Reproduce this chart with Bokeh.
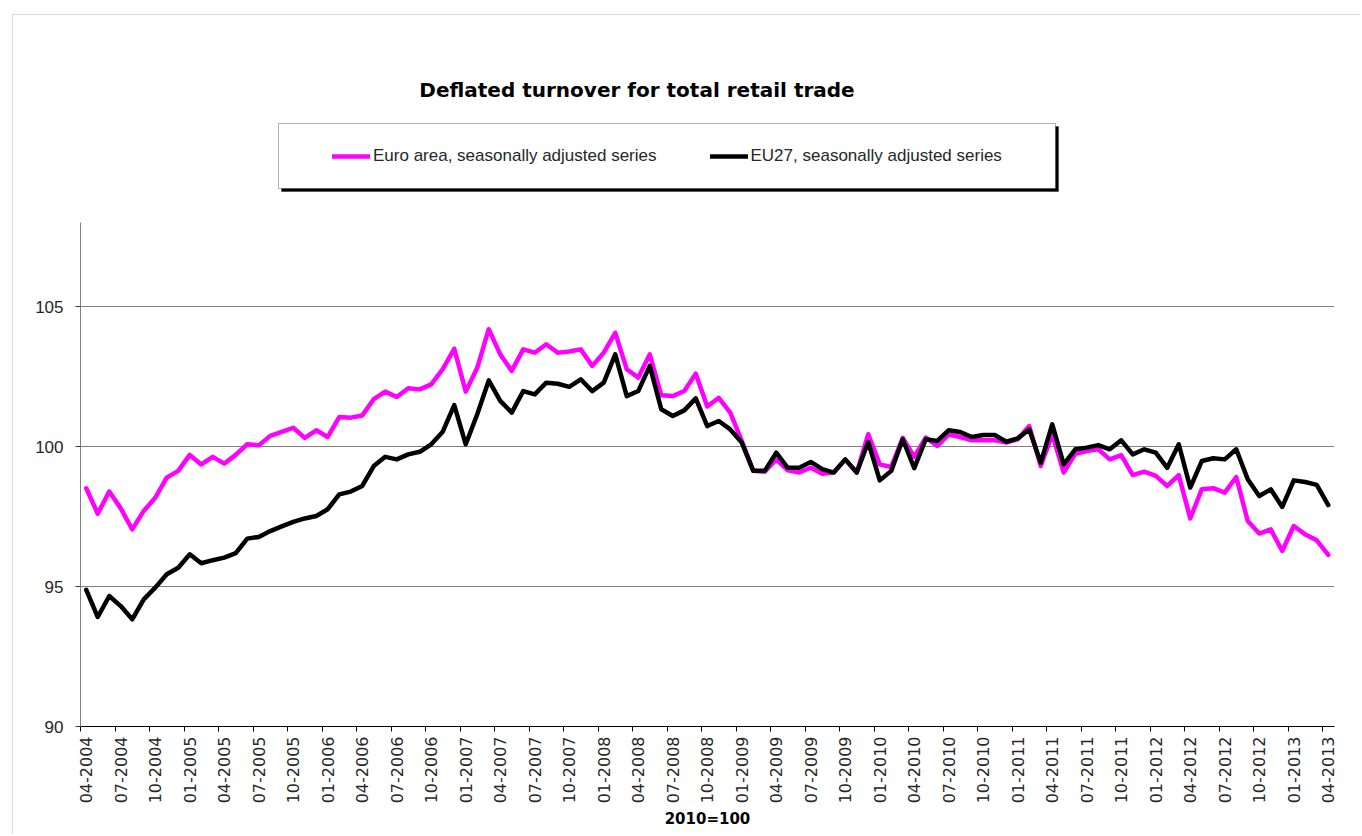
import math
from bokeh.plotting import figure
from bokeh.models import (Range1d, FixedTicker, Legend, LegendItem, BoxAnnotation,
                          Label, ColumnDataSource)
from bokeh.embed import file_html
from bokeh.resources import INLINE

# ---- data ----
months = [f"{(3 + i) % 12 + 1:02d}-{2004 + (3 + i) // 12}" for i in range(109)]

euro_area = [
    98.51, 97.60, 98.39, 97.79, 97.04, 97.70, 98.17, 98.89, 99.13, 99.70,
    99.36, 99.63, 99.39, 99.70, 100.08, 100.04, 100.38, 100.52, 100.67, 100.31,
    100.58, 100.34, 101.05, 101.03, 101.11, 101.69, 101.96, 101.77, 102.08, 102.04,
    102.22, 102.76, 103.49, 101.96, 102.81, 104.19, 103.29, 102.70, 103.47, 103.35,
    103.65, 103.35, 103.39, 103.47, 102.88, 103.35, 104.06, 102.76, 102.46, 103.29,
    101.83, 101.80, 101.98, 102.60, 101.43, 101.74, 101.21, 100.20, 99.13, 99.10,
    99.54, 99.15, 99.07, 99.24, 99.03, 99.07, 99.54, 99.07, 100.44, 99.36,
    99.27, 100.31, 99.63, 100.32, 100.02, 100.43, 100.34, 100.22, 100.22, 100.22,
    100.14, 100.26, 100.73, 99.30, 100.43, 99.07, 99.74, 99.84, 99.90, 99.54,
    99.69, 98.98, 99.10, 98.95, 98.59, 98.98, 97.43, 98.47, 98.51, 98.35,
    98.91, 97.34, 96.89, 97.04, 96.27, 97.16, 96.86, 96.65, 96.13,
]

eu27 = [
    94.88, 93.91, 94.66, 94.30, 93.83, 94.54, 94.96, 95.44, 95.67, 96.15,
    95.83, 95.94, 96.03, 96.19, 96.71, 96.77, 96.98, 97.15, 97.31, 97.43,
    97.52, 97.76, 98.29, 98.39, 98.59, 99.30, 99.63, 99.54, 99.72, 99.81,
    100.08, 100.53, 101.48, 100.08, 101.15, 102.36, 101.63, 101.21, 101.98, 101.86,
    102.28, 102.24, 102.13, 102.40, 101.98, 102.28, 103.29, 101.80, 101.98, 102.88,
    101.33, 101.09, 101.29, 101.72, 100.73, 100.91, 100.61, 100.14, 99.13, 99.13,
    99.78, 99.24, 99.24, 99.45, 99.19, 99.07, 99.54, 99.07, 100.16, 98.79,
    99.13, 100.26, 99.23, 100.26, 100.20, 100.58, 100.52, 100.34, 100.41, 100.41,
    100.17, 100.29, 100.61, 99.42, 100.79, 99.36, 99.90, 99.96, 100.05, 99.90,
    100.22, 99.72, 99.90, 99.78, 99.24, 100.08, 98.53, 99.48, 99.58, 99.54,
    99.90, 98.83, 98.23, 98.47, 97.84, 98.79, 98.73, 98.63, 97.91,
]

y_ticks = [90, 95, 100, 105]
y_max = 108
series_names = ["Euro area, seasonally adjusted series", "EU27, seasonally adjusted series"]
title_text = "Deflated turnover for total retail trade"
x_title = "2010=100"

# ---- layout (pixels) ----
W, H = 1360, 834
X0_PX, PX_PER_MONTH = 85.75, 11.5      # centre of first category
Y_BASE_PX, PX_PER_UNIT = 726.0, 28.0   # pixel row of value 90


def px2x(px):
    return (px - X0_PX) / PX_PER_MONTH


def py2y(py):
    return y_ticks[0] + (Y_BASE_PX - py) / PX_PER_UNIT


n = len(months)
idx = list(range(n))
src = ColumnDataSource(dict(x=idx, euro=euro_area, eu27=eu27, month=months))

p = figure(width=W, height=H, output_backend="svg", toolbar_location=None, title=None,
           x_range=Range1d(px2x(0), px2x(W)), y_range=Range1d(py2y(H), py2y(0)),
           min_border=0, min_border_left=0, min_border_right=0,
           min_border_top=0, min_border_bottom=0)
p.outline_line_color = None
p.background_fill_color = "white"
p.border_fill_color = "white"
p.xgrid.visible = False
p.ygrid.visible = False

# horizontal gridlines limited to the plot area
grid_src = ColumnDataSource(dict(y=[t for t in y_ticks if t > y_ticks[0]]))
p.segment(x0=-0.5, x1=n - 0.5, y0="y", y1="y", source=grid_src,
          line_color="#808080", line_width=1)

# y axis
p.yaxis.fixed_location = -0.5
p.yaxis.bounds = (y_ticks[0], y_max)
p.yaxis.ticker = FixedTicker(ticks=y_ticks)
p.yaxis.axis_line_color = "#808080"
p.yaxis.major_tick_line_color = "#404040"
p.yaxis.major_tick_out = 5
p.yaxis.major_tick_in = 0
p.yaxis.minor_tick_line_color = None
p.yaxis.major_label_standoff = 12
p.yaxis.major_label_text_font = "Liberation Sans"
p.yaxis.major_label_text_font_size = "17px"
p.yaxis.major_label_text_color = "#262626"

# x axis
label_pos = list(range(0, n, 3))
p.xaxis.fixed_location = y_ticks[0]
p.xaxis.bounds = (-0.5, n - 0.5)
p.xaxis.ticker = FixedTicker(ticks=label_pos,
                             minor_ticks=[-0.5 + 3 * k for k in range(n // 3 + 1)])
p.xaxis.major_label_overrides = {i: months[i] for i in label_pos}
p.xaxis.major_label_orientation = math.pi / 2
p.xaxis.major_tick_out = 0
p.xaxis.major_tick_in = 0
p.xaxis.minor_tick_out = 5
p.xaxis.minor_tick_in = 0
p.xaxis.minor_tick_line_color = "black"
p.xaxis.axis_line_color = "black"
p.xaxis.major_label_standoff = 5
p.xaxis.major_label_text_font = "DejaVu Sans"
p.xaxis.major_label_text_font_size = "16px"
p.xaxis.major_label_text_color = "#262626"
p.xaxis.axis_label = x_title
p.xaxis.axis_label_text_font = "DejaVu Sans"
p.xaxis.axis_label_text_font_style = "bold"
p.xaxis.axis_label_text_font_size = "15px"
p.xaxis.axis_label_text_color = "black"
p.xaxis.axis_label_standoff = 4

# series lines
r_euro = p.line("x", "euro", source=src, line_color="#FF00FF", line_width=4.5,
                line_join="round", line_cap="round")
r_eu = p.line("x", "eu27", source=src, line_color="black", line_width=4.5,
              line_join="round", line_cap="round")

# outer chart border
p.add_layout(BoxAnnotation(left=px2x(12), top=py2y(14), right=px2x(W + 50),
                           bottom=py2y(H + 50), fill_alpha=0,
                           line_color="#808080", line_width=1))

# legend box with shadow
p.add_layout(BoxAnnotation(left=px2x(281), top=py2y(126), right=px2x(1058),
                           bottom=py2y(191), fill_color="black", fill_alpha=1,
                           line_color="black", line_width=1))
p.add_layout(BoxAnnotation(left=px2x(278), top=py2y(123), right=px2x(1055),
                           bottom=py2y(188), fill_color="white", fill_alpha=1,
                           line_color="black", line_width=1))

legend = Legend(items=[LegendItem(label=series_names[0], renderers=[r_euro]),
                       LegendItem(label=series_names[1], renderers=[r_eu])],
                orientation="horizontal", location=(332, H - 166),
                background_fill_alpha=0, border_line_alpha=0, padding=0, margin=0,
                spacing=53, glyph_width=38, glyph_height=20, label_standoff=3,
                label_height=20,
                label_text_font="Liberation Sans", label_text_font_size="17px",
                label_text_color="#262626")
p.add_layout(legend)

# title
p.add_layout(Label(x=px2x(636.5), y=py2y(89), text=title_text,
                   text_align="center", text_baseline="alphabetic",
                   text_font="DejaVu Sans", text_font_style="bold",
                   text_font_size="20px", text_color="black"))

open("out.html", "w").write(file_html(p, INLINE))
